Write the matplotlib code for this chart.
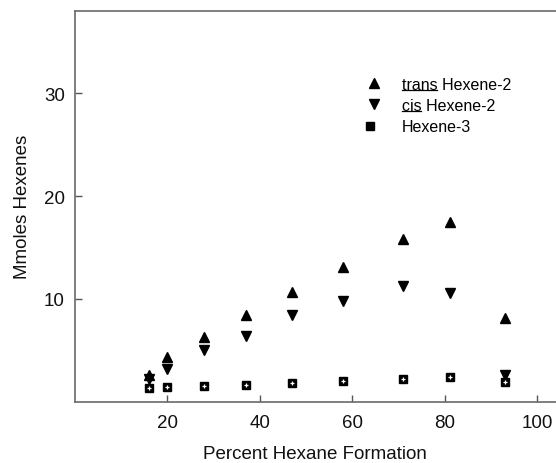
import matplotlib
matplotlib.use("Agg")
from matplotlib import pyplot as plt
from matplotlib.lines import Line2D
from matplotlib.legend_handler import HandlerTuple

plt.rcParams['font.family'] = ['Liberation Sans', 'DejaVu Sans']

# percent hexane formation
pct = [16, 20, 28, 37, 47, 58, 71, 81, 93]
# mmoles of each hexene
trans_h2 = [2.6, 4.3, 6.3, 8.4, 10.7, 13.1, 15.8, 17.5, 8.1]
cis_h2 = [2.2, 3.2, 5.0, 6.4, 8.4, 9.8, 11.3, 10.6, 2.6]
hex3 = [1.3, 1.4, 1.5, 1.6, 1.8, 2.0, 2.2, 2.4, 1.9]

xticks = [20, 40, 60, 80, 100]
yticks = [10, 20, 30]

W, H = 556, 464
fig = plt.figure(figsize=(W/100, H/100), dpi=100)
ax = fig.add_axes([74.7/W, (H-402.7)/H, (W-74.7)/W, (402.7-12)/H])

h1, = ax.plot(pct, trans_h2, ls='none', marker='^', ms=6.8, color='black')
h2, = ax.plot(pct, cis_h2, ls='none', marker='v', ms=6.8, color='black')
h3a, = ax.plot(pct, hex3, ls='none', marker='s', ms=6.0, color='black')
h3b, = ax.plot(pct, hex3, ls='none', marker='+', ms=3.2, mew=0.9, color='white')

ax.set_xlim(0, 104)
ax.set_ylim(0, 38)
ax.set_xticks(xticks)
ax.set_yticks(yticks)
ax.tick_params(direction='in', length=5, width=1, labelsize=13.5,
               color='#555', labelcolor='#111')
ax.tick_params(axis='x', pad=9)
ax.tick_params(axis='y', pad=7)
ax.spines['right'].set_visible(False)
for s in ['left', 'bottom', 'top']:
    ax.spines[s].set_color('#6a6a6a')
    ax.spines[s].set_linewidth(1.2)

ax.set_xlabel('Percent Hexane Formation', fontsize=13.5, labelpad=10, color='#111')
ax.set_ylabel('Mmoles Hexenes', fontsize=13.5, labelpad=9, color='#111')

leg = fig.legend([h1, h2, (h3a, h3b)],
                 ['trans Hexene-2', 'cis Hexene-2', 'Hexene-3'],
                 handler_map={tuple: HandlerTuple(ndivide=None)},
                 frameon=False, fontsize=11.5, loc='upper left',
                 bbox_to_anchor=(366/W, 1 - 78/H), borderpad=0,
                 borderaxespad=0, handlelength=1.0,
                 handletextpad=1.23, labelspacing=0.38)

# underline "trans" and "cis"
fig.canvas.draw()
r = fig.canvas.get_renderer()
for t, word in zip(leg.get_texts()[:2], ['trans', 'cis']):
    bb = t.get_window_extent(r)
    tmp = fig.text(0, 0, word, fontsize=11.5)
    w = tmp.get_window_extent(r).width
    tmp.remove()
    y = bb.y0 + 2
    fig.add_artist(Line2D([bb.x0 / W, (bb.x0 + w) / W], [y / H, y / H],
                          color='black', lw=0.9, transform=fig.transFigure))

fig.savefig('out.png', dpi=100)
